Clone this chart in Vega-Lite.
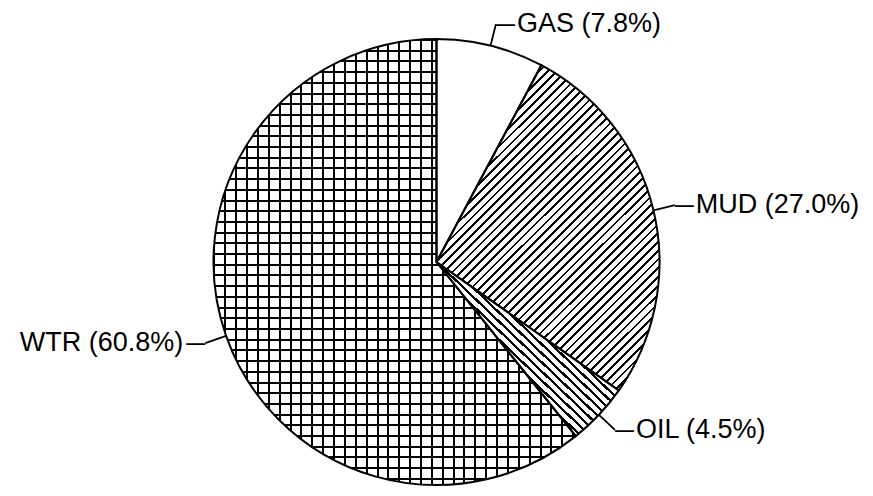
{
"$schema": "https://vega.github.io/schema/vega-lite/v6.json",
"width": 873, "height": 468,
"autosize": {"type": "none"},
"padding": {"top": 28, "left": 0, "right": 0, "bottom": 0},
"background": "#ffffff",
"config": {"view": {"stroke": null}},
"data": {"values": [
 {"cat": "GAS", "value": 7.8, "label": "GAS (7.8%)"},
 {"cat": "MUD", "value": 27.0, "label": "MUD (27.0%)"},
 {"cat": "OIL", "value": 4.5, "label": "OIL (4.5%)"},
 {"cat": "WTR", "value": 60.8, "label": "WTR (60.8%)"}
]},
"transform": [
 {"stack": "value", "groupby": [], "as": ["v0", "v1"]},
 {"calculate": "(datum.v0 + datum.v1) / 2", "as": "mid"}
],
"layer": [
 {"transform": [{"filter": "datum.cat === 'WTR'"}],
  "mark": {"type": "arc", "radius": 223, "fill": {"gradient": "linear", "x1": 0, "y1": 0, "x2": 1, "y2": 0, "stops": [
{"offset":0,"color":"#000"},{"offset":0.0055,"color":"#000"},{"offset":0.0055,"color":"#fff"},{"offset":0.03,"color":"#fff"},
{"offset":0.03,"color":"#000"},{"offset":0.0355,"color":"#000"},{"offset":0.0355,"color":"#fff"},{"offset":0.06,"color":"#fff"},
{"offset":0.06,"color":"#000"},{"offset":0.0655,"color":"#000"},{"offset":0.0655,"color":"#fff"},{"offset":0.09,"color":"#fff"},
{"offset":0.09,"color":"#000"},{"offset":0.0955,"color":"#000"},{"offset":0.0955,"color":"#fff"},{"offset":0.12,"color":"#fff"},
{"offset":0.12,"color":"#000"},{"offset":0.1255,"color":"#000"},{"offset":0.1255,"color":"#fff"},{"offset":0.15,"color":"#fff"},
{"offset":0.15,"color":"#000"},{"offset":0.1555,"color":"#000"},{"offset":0.1555,"color":"#fff"},{"offset":0.18,"color":"#fff"},
{"offset":0.18,"color":"#000"},{"offset":0.1855,"color":"#000"},{"offset":0.1855,"color":"#fff"},{"offset":0.21,"color":"#fff"},
{"offset":0.21,"color":"#000"},{"offset":0.2155,"color":"#000"},{"offset":0.2155,"color":"#fff"},{"offset":0.24,"color":"#fff"},
{"offset":0.24,"color":"#000"},{"offset":0.2455,"color":"#000"},{"offset":0.2455,"color":"#fff"},{"offset":0.27,"color":"#fff"},
{"offset":0.27,"color":"#000"},{"offset":0.2755,"color":"#000"},{"offset":0.2755,"color":"#fff"},{"offset":0.3,"color":"#fff"},
{"offset":0.3,"color":"#000"},{"offset":0.3055,"color":"#000"},{"offset":0.3055,"color":"#fff"},{"offset":0.33,"color":"#fff"},
{"offset":0.33,"color":"#000"},{"offset":0.3355,"color":"#000"},{"offset":0.3355,"color":"#fff"},{"offset":0.36,"color":"#fff"},
{"offset":0.36,"color":"#000"},{"offset":0.3655,"color":"#000"},{"offset":0.3655,"color":"#fff"},{"offset":0.39,"color":"#fff"},
{"offset":0.39,"color":"#000"},{"offset":0.3955,"color":"#000"},{"offset":0.3955,"color":"#fff"},{"offset":0.42,"color":"#fff"},
{"offset":0.42,"color":"#000"},{"offset":0.4255,"color":"#000"},{"offset":0.4255,"color":"#fff"},{"offset":0.45,"color":"#fff"},
{"offset":0.45,"color":"#000"},{"offset":0.4555,"color":"#000"},{"offset":0.4555,"color":"#fff"},{"offset":0.48,"color":"#fff"},
{"offset":0.48,"color":"#000"},{"offset":0.4855,"color":"#000"},{"offset":0.4855,"color":"#fff"},{"offset":0.51,"color":"#fff"},
{"offset":0.51,"color":"#000"},{"offset":0.5155,"color":"#000"},{"offset":0.5155,"color":"#fff"},{"offset":0.54,"color":"#fff"},
{"offset":0.54,"color":"#000"},{"offset":0.5455,"color":"#000"},{"offset":0.5455,"color":"#fff"},{"offset":0.57,"color":"#fff"},
{"offset":0.57,"color":"#000"},{"offset":0.5755,"color":"#000"},{"offset":0.5755,"color":"#fff"},{"offset":0.6,"color":"#fff"},
{"offset":0.6,"color":"#000"},{"offset":0.6055,"color":"#000"},{"offset":0.6055,"color":"#fff"},{"offset":0.63,"color":"#fff"},
{"offset":0.63,"color":"#000"},{"offset":0.6355,"color":"#000"},{"offset":0.6355,"color":"#fff"},{"offset":0.66,"color":"#fff"},
{"offset":0.66,"color":"#000"},{"offset":0.6655,"color":"#000"},{"offset":0.6655,"color":"#fff"},{"offset":0.69,"color":"#fff"},
{"offset":0.69,"color":"#000"},{"offset":0.6955,"color":"#000"},{"offset":0.6955,"color":"#fff"},{"offset":0.72,"color":"#fff"},
{"offset":0.72,"color":"#000"},{"offset":0.7255,"color":"#000"},{"offset":0.7255,"color":"#fff"},{"offset":0.75,"color":"#fff"},
{"offset":0.75,"color":"#000"},{"offset":0.7555,"color":"#000"},{"offset":0.7555,"color":"#fff"},{"offset":0.78,"color":"#fff"},
{"offset":0.78,"color":"#000"},{"offset":0.7855,"color":"#000"},{"offset":0.7855,"color":"#fff"},{"offset":0.81,"color":"#fff"},
{"offset":0.81,"color":"#000"},{"offset":0.8155,"color":"#000"},{"offset":0.8155,"color":"#fff"},{"offset":0.84,"color":"#fff"},
{"offset":0.84,"color":"#000"},{"offset":0.8455,"color":"#000"},{"offset":0.8455,"color":"#fff"},{"offset":0.87,"color":"#fff"},
{"offset":0.87,"color":"#000"},{"offset":0.8755,"color":"#000"},{"offset":0.8755,"color":"#fff"},{"offset":0.9,"color":"#fff"},
{"offset":0.9,"color":"#000"},{"offset":0.9055,"color":"#000"},{"offset":0.9055,"color":"#fff"},{"offset":0.93,"color":"#fff"},
{"offset":0.93,"color":"#000"},{"offset":0.9355,"color":"#000"},{"offset":0.9355,"color":"#fff"},{"offset":0.96,"color":"#fff"},
{"offset":0.96,"color":"#000"},{"offset":0.9655,"color":"#000"},{"offset":0.9655,"color":"#fff"},{"offset":0.99,"color":"#fff"},
{"offset":0.99,"color":"#000"},{"offset":0.9955,"color":"#000"},{"offset":0.9955,"color":"#fff"},{"offset":1,"color":"#fff"}
  ]}},
  "encoding": {"theta": {"field": "v0", "type": "quantitative", "scale": {"domain": [0, 100.1]}, "stack": null}, "theta2": {"field": "v1"}}},
 {"transform": [{"filter": "datum.cat === 'WTR'"}],
  "mark": {"type": "arc", "radius": 223, "fill": {"gradient": "linear", "x1": 0, "y1": 0, "x2": 0, "y2": 1, "stops": [
{"offset":0,"color":"#000"},{"offset":0.0045,"color":"#000"},{"offset":0.0045,"color":"rgba(0,0,0,0)"},{"offset":0.024,"color":"rgba(0,0,0,0)"},
{"offset":0.024,"color":"#000"},{"offset":0.0285,"color":"#000"},{"offset":0.0285,"color":"rgba(0,0,0,0)"},{"offset":0.048,"color":"rgba(0,0,0,0)"},
{"offset":0.048,"color":"#000"},{"offset":0.0525,"color":"#000"},{"offset":0.0525,"color":"rgba(0,0,0,0)"},{"offset":0.072,"color":"rgba(0,0,0,0)"},
{"offset":0.072,"color":"#000"},{"offset":0.0765,"color":"#000"},{"offset":0.0765,"color":"rgba(0,0,0,0)"},{"offset":0.096,"color":"rgba(0,0,0,0)"},
{"offset":0.096,"color":"#000"},{"offset":0.1005,"color":"#000"},{"offset":0.1005,"color":"rgba(0,0,0,0)"},{"offset":0.12,"color":"rgba(0,0,0,0)"},
{"offset":0.12,"color":"#000"},{"offset":0.1245,"color":"#000"},{"offset":0.1245,"color":"rgba(0,0,0,0)"},{"offset":0.144,"color":"rgba(0,0,0,0)"},
{"offset":0.144,"color":"#000"},{"offset":0.1485,"color":"#000"},{"offset":0.1485,"color":"rgba(0,0,0,0)"},{"offset":0.168,"color":"rgba(0,0,0,0)"},
{"offset":0.168,"color":"#000"},{"offset":0.1725,"color":"#000"},{"offset":0.1725,"color":"rgba(0,0,0,0)"},{"offset":0.192,"color":"rgba(0,0,0,0)"},
{"offset":0.192,"color":"#000"},{"offset":0.1965,"color":"#000"},{"offset":0.1965,"color":"rgba(0,0,0,0)"},{"offset":0.216,"color":"rgba(0,0,0,0)"},
{"offset":0.216,"color":"#000"},{"offset":0.2205,"color":"#000"},{"offset":0.2205,"color":"rgba(0,0,0,0)"},{"offset":0.24,"color":"rgba(0,0,0,0)"},
{"offset":0.24,"color":"#000"},{"offset":0.2445,"color":"#000"},{"offset":0.2445,"color":"rgba(0,0,0,0)"},{"offset":0.264,"color":"rgba(0,0,0,0)"},
{"offset":0.264,"color":"#000"},{"offset":0.2685,"color":"#000"},{"offset":0.2685,"color":"rgba(0,0,0,0)"},{"offset":0.288,"color":"rgba(0,0,0,0)"},
{"offset":0.288,"color":"#000"},{"offset":0.2925,"color":"#000"},{"offset":0.2925,"color":"rgba(0,0,0,0)"},{"offset":0.312,"color":"rgba(0,0,0,0)"},
{"offset":0.312,"color":"#000"},{"offset":0.3165,"color":"#000"},{"offset":0.3165,"color":"rgba(0,0,0,0)"},{"offset":0.336,"color":"rgba(0,0,0,0)"},
{"offset":0.336,"color":"#000"},{"offset":0.3405,"color":"#000"},{"offset":0.3405,"color":"rgba(0,0,0,0)"},{"offset":0.36,"color":"rgba(0,0,0,0)"},
{"offset":0.36,"color":"#000"},{"offset":0.3645,"color":"#000"},{"offset":0.3645,"color":"rgba(0,0,0,0)"},{"offset":0.384,"color":"rgba(0,0,0,0)"},
{"offset":0.384,"color":"#000"},{"offset":0.3885,"color":"#000"},{"offset":0.3885,"color":"rgba(0,0,0,0)"},{"offset":0.408,"color":"rgba(0,0,0,0)"},
{"offset":0.408,"color":"#000"},{"offset":0.4125,"color":"#000"},{"offset":0.4125,"color":"rgba(0,0,0,0)"},{"offset":0.432,"color":"rgba(0,0,0,0)"},
{"offset":0.432,"color":"#000"},{"offset":0.4365,"color":"#000"},{"offset":0.4365,"color":"rgba(0,0,0,0)"},{"offset":0.456,"color":"rgba(0,0,0,0)"},
{"offset":0.456,"color":"#000"},{"offset":0.4605,"color":"#000"},{"offset":0.4605,"color":"rgba(0,0,0,0)"},{"offset":0.48,"color":"rgba(0,0,0,0)"},
{"offset":0.48,"color":"#000"},{"offset":0.4845,"color":"#000"},{"offset":0.4845,"color":"rgba(0,0,0,0)"},{"offset":0.504,"color":"rgba(0,0,0,0)"},
{"offset":0.504,"color":"#000"},{"offset":0.5085,"color":"#000"},{"offset":0.5085,"color":"rgba(0,0,0,0)"},{"offset":0.528,"color":"rgba(0,0,0,0)"},
{"offset":0.528,"color":"#000"},{"offset":0.5325,"color":"#000"},{"offset":0.5325,"color":"rgba(0,0,0,0)"},{"offset":0.552,"color":"rgba(0,0,0,0)"},
{"offset":0.552,"color":"#000"},{"offset":0.5565,"color":"#000"},{"offset":0.5565,"color":"rgba(0,0,0,0)"},{"offset":0.576,"color":"rgba(0,0,0,0)"},
{"offset":0.576,"color":"#000"},{"offset":0.5805,"color":"#000"},{"offset":0.5805,"color":"rgba(0,0,0,0)"},{"offset":0.6,"color":"rgba(0,0,0,0)"},
{"offset":0.6,"color":"#000"},{"offset":0.6045,"color":"#000"},{"offset":0.6045,"color":"rgba(0,0,0,0)"},{"offset":0.624,"color":"rgba(0,0,0,0)"},
{"offset":0.624,"color":"#000"},{"offset":0.6285,"color":"#000"},{"offset":0.6285,"color":"rgba(0,0,0,0)"},{"offset":0.648,"color":"rgba(0,0,0,0)"},
{"offset":0.648,"color":"#000"},{"offset":0.6525,"color":"#000"},{"offset":0.6525,"color":"rgba(0,0,0,0)"},{"offset":0.672,"color":"rgba(0,0,0,0)"},
{"offset":0.672,"color":"#000"},{"offset":0.6765,"color":"#000"},{"offset":0.6765,"color":"rgba(0,0,0,0)"},{"offset":0.696,"color":"rgba(0,0,0,0)"},
{"offset":0.696,"color":"#000"},{"offset":0.7005,"color":"#000"},{"offset":0.7005,"color":"rgba(0,0,0,0)"},{"offset":0.72,"color":"rgba(0,0,0,0)"},
{"offset":0.72,"color":"#000"},{"offset":0.7245,"color":"#000"},{"offset":0.7245,"color":"rgba(0,0,0,0)"},{"offset":0.744,"color":"rgba(0,0,0,0)"},
{"offset":0.744,"color":"#000"},{"offset":0.7485,"color":"#000"},{"offset":0.7485,"color":"rgba(0,0,0,0)"},{"offset":0.768,"color":"rgba(0,0,0,0)"},
{"offset":0.768,"color":"#000"},{"offset":0.7725,"color":"#000"},{"offset":0.7725,"color":"rgba(0,0,0,0)"},{"offset":0.792,"color":"rgba(0,0,0,0)"},
{"offset":0.792,"color":"#000"},{"offset":0.7965,"color":"#000"},{"offset":0.7965,"color":"rgba(0,0,0,0)"},{"offset":0.816,"color":"rgba(0,0,0,0)"},
{"offset":0.816,"color":"#000"},{"offset":0.8205,"color":"#000"},{"offset":0.8205,"color":"rgba(0,0,0,0)"},{"offset":0.84,"color":"rgba(0,0,0,0)"},
{"offset":0.84,"color":"#000"},{"offset":0.8445,"color":"#000"},{"offset":0.8445,"color":"rgba(0,0,0,0)"},{"offset":0.864,"color":"rgba(0,0,0,0)"},
{"offset":0.864,"color":"#000"},{"offset":0.8685,"color":"#000"},{"offset":0.8685,"color":"rgba(0,0,0,0)"},{"offset":0.888,"color":"rgba(0,0,0,0)"},
{"offset":0.888,"color":"#000"},{"offset":0.8925,"color":"#000"},{"offset":0.8925,"color":"rgba(0,0,0,0)"},{"offset":0.912,"color":"rgba(0,0,0,0)"},
{"offset":0.912,"color":"#000"},{"offset":0.9165,"color":"#000"},{"offset":0.9165,"color":"rgba(0,0,0,0)"},{"offset":0.936,"color":"rgba(0,0,0,0)"},
{"offset":0.936,"color":"#000"},{"offset":0.9405,"color":"#000"},{"offset":0.9405,"color":"rgba(0,0,0,0)"},{"offset":0.96,"color":"rgba(0,0,0,0)"},
{"offset":0.96,"color":"#000"},{"offset":0.9645,"color":"#000"},{"offset":0.9645,"color":"rgba(0,0,0,0)"},{"offset":0.984,"color":"rgba(0,0,0,0)"},
{"offset":0.984,"color":"#000"},{"offset":0.9885,"color":"#000"},{"offset":0.9885,"color":"rgba(0,0,0,0)"},{"offset":1,"color":"rgba(0,0,0,0)"}
  ]}},
  "encoding": {"theta": {"field": "v0", "type": "quantitative", "scale": {"domain": [0, 100.1]}, "stack": null}, "theta2": {"field": "v1"}}},
 {"transform": [{"filter": "datum.cat === 'MUD'"}],
  "mark": {"type": "arc", "radius": 223, "fill": {"gradient": "linear", "x1": 0, "y1": 0, "x2": 0.7855, "y2": 1.1469, "stops": [
{"offset":0,"color":"#fff"},{"offset":0.18,"color":"#fff"},
{"offset":0.18,"color":"#000"},{"offset":0.185,"color":"#000"},{"offset":0.185,"color":"#fff"},{"offset":0.196,"color":"#fff"},
{"offset":0.196,"color":"#000"},{"offset":0.201,"color":"#000"},{"offset":0.201,"color":"#fff"},{"offset":0.212,"color":"#fff"},
{"offset":0.212,"color":"#000"},{"offset":0.217,"color":"#000"},{"offset":0.217,"color":"#fff"},{"offset":0.228,"color":"#fff"},
{"offset":0.228,"color":"#000"},{"offset":0.233,"color":"#000"},{"offset":0.233,"color":"#fff"},{"offset":0.244,"color":"#fff"},
{"offset":0.244,"color":"#000"},{"offset":0.249,"color":"#000"},{"offset":0.249,"color":"#fff"},{"offset":0.26,"color":"#fff"},
{"offset":0.26,"color":"#000"},{"offset":0.265,"color":"#000"},{"offset":0.265,"color":"#fff"},{"offset":0.276,"color":"#fff"},
{"offset":0.276,"color":"#000"},{"offset":0.281,"color":"#000"},{"offset":0.281,"color":"#fff"},{"offset":0.292,"color":"#fff"},
{"offset":0.292,"color":"#000"},{"offset":0.297,"color":"#000"},{"offset":0.297,"color":"#fff"},{"offset":0.308,"color":"#fff"},
{"offset":0.308,"color":"#000"},{"offset":0.313,"color":"#000"},{"offset":0.313,"color":"#fff"},{"offset":0.324,"color":"#fff"},
{"offset":0.324,"color":"#000"},{"offset":0.329,"color":"#000"},{"offset":0.329,"color":"#fff"},{"offset":0.34,"color":"#fff"},
{"offset":0.34,"color":"#000"},{"offset":0.345,"color":"#000"},{"offset":0.345,"color":"#fff"},{"offset":0.356,"color":"#fff"},
{"offset":0.356,"color":"#000"},{"offset":0.361,"color":"#000"},{"offset":0.361,"color":"#fff"},{"offset":0.372,"color":"#fff"},
{"offset":0.372,"color":"#000"},{"offset":0.377,"color":"#000"},{"offset":0.377,"color":"#fff"},{"offset":0.388,"color":"#fff"},
{"offset":0.388,"color":"#000"},{"offset":0.393,"color":"#000"},{"offset":0.393,"color":"#fff"},{"offset":0.404,"color":"#fff"},
{"offset":0.404,"color":"#000"},{"offset":0.409,"color":"#000"},{"offset":0.409,"color":"#fff"},{"offset":0.42,"color":"#fff"},
{"offset":0.42,"color":"#000"},{"offset":0.425,"color":"#000"},{"offset":0.425,"color":"#fff"},{"offset":0.436,"color":"#fff"},
{"offset":0.436,"color":"#000"},{"offset":0.441,"color":"#000"},{"offset":0.441,"color":"#fff"},{"offset":0.452,"color":"#fff"},
{"offset":0.452,"color":"#000"},{"offset":0.457,"color":"#000"},{"offset":0.457,"color":"#fff"},{"offset":0.468,"color":"#fff"},
{"offset":0.468,"color":"#000"},{"offset":0.473,"color":"#000"},{"offset":0.473,"color":"#fff"},{"offset":0.484,"color":"#fff"},
{"offset":0.484,"color":"#000"},{"offset":0.489,"color":"#000"},{"offset":0.489,"color":"#fff"},{"offset":0.5,"color":"#fff"},
{"offset":0.5,"color":"#000"},{"offset":0.505,"color":"#000"},{"offset":0.505,"color":"#fff"},{"offset":0.516,"color":"#fff"},
{"offset":0.516,"color":"#000"},{"offset":0.521,"color":"#000"},{"offset":0.521,"color":"#fff"},{"offset":0.532,"color":"#fff"},
{"offset":0.532,"color":"#000"},{"offset":0.537,"color":"#000"},{"offset":0.537,"color":"#fff"},{"offset":0.548,"color":"#fff"},
{"offset":0.548,"color":"#000"},{"offset":0.553,"color":"#000"},{"offset":0.553,"color":"#fff"},{"offset":0.564,"color":"#fff"},
{"offset":0.564,"color":"#000"},{"offset":0.569,"color":"#000"},{"offset":0.569,"color":"#fff"},{"offset":0.58,"color":"#fff"},
{"offset":0.58,"color":"#000"},{"offset":0.585,"color":"#000"},{"offset":0.585,"color":"#fff"},{"offset":0.596,"color":"#fff"},
{"offset":0.596,"color":"#000"},{"offset":0.601,"color":"#000"},{"offset":0.601,"color":"#fff"},{"offset":0.612,"color":"#fff"},
{"offset":0.612,"color":"#000"},{"offset":0.617,"color":"#000"},{"offset":0.617,"color":"#fff"},{"offset":0.628,"color":"#fff"},
{"offset":0.628,"color":"#000"},{"offset":0.633,"color":"#000"},{"offset":0.633,"color":"#fff"},{"offset":0.644,"color":"#fff"},
{"offset":0.644,"color":"#000"},{"offset":0.649,"color":"#000"},{"offset":0.649,"color":"#fff"},{"offset":0.66,"color":"#fff"},
{"offset":0.66,"color":"#000"},{"offset":0.665,"color":"#000"},{"offset":0.665,"color":"#fff"},{"offset":0.676,"color":"#fff"},
{"offset":0.676,"color":"#000"},{"offset":0.681,"color":"#000"},{"offset":0.681,"color":"#fff"},{"offset":0.692,"color":"#fff"},
{"offset":0.692,"color":"#000"},{"offset":0.697,"color":"#000"},{"offset":0.697,"color":"#fff"},{"offset":0.708,"color":"#fff"},
{"offset":0.708,"color":"#000"},{"offset":0.713,"color":"#000"},{"offset":0.713,"color":"#fff"},{"offset":0.724,"color":"#fff"},
{"offset":0.724,"color":"#000"},{"offset":0.729,"color":"#000"},{"offset":0.729,"color":"#fff"},{"offset":0.74,"color":"#fff"},
{"offset":0.74,"color":"#000"},{"offset":0.745,"color":"#000"},{"offset":0.745,"color":"#fff"},{"offset":0.756,"color":"#fff"},
{"offset":0.756,"color":"#000"},{"offset":0.761,"color":"#000"},{"offset":0.761,"color":"#fff"},{"offset":0.772,"color":"#fff"},
{"offset":0.772,"color":"#000"},{"offset":0.777,"color":"#000"},{"offset":0.777,"color":"#fff"},{"offset":0.788,"color":"#fff"},
{"offset":0.788,"color":"#000"},{"offset":0.793,"color":"#000"},{"offset":0.793,"color":"#fff"},{"offset":0.804,"color":"#fff"},
{"offset":0.804,"color":"#000"},{"offset":0.809,"color":"#000"},{"offset":0.809,"color":"#fff"},{"offset":0.82,"color":"#fff"},
{"offset":0.82,"color":"#000"},{"offset":0.825,"color":"#000"},{"offset":0.825,"color":"#fff"},{"offset":0.836,"color":"#fff"},
{"offset":0.836,"color":"#000"},{"offset":0.841,"color":"#000"},{"offset":0.841,"color":"#fff"},{"offset":0.852,"color":"#fff"},
{"offset":0.852,"color":"#000"},{"offset":0.857,"color":"#000"},{"offset":0.857,"color":"#fff"},{"offset":0.868,"color":"#fff"},
{"offset":0.868,"color":"#000"},{"offset":0.873,"color":"#000"},{"offset":0.873,"color":"#fff"},{"offset":0.884,"color":"#fff"},
{"offset":0.884,"color":"#000"},{"offset":0.889,"color":"#000"},{"offset":0.889,"color":"#fff"},{"offset":0.9,"color":"#fff"},
{"offset":0.9,"color":"#000"},{"offset":0.905,"color":"#000"},{"offset":0.905,"color":"#fff"},{"offset":0.916,"color":"#fff"},
{"offset":0.916,"color":"#000"},{"offset":0.921,"color":"#000"},{"offset":0.921,"color":"#fff"},{"offset":0.932,"color":"#fff"},
{"offset":0.932,"color":"#000"},{"offset":0.937,"color":"#000"},{"offset":0.937,"color":"#fff"},{"offset":1,"color":"#fff"}
  ]}},
  "encoding": {"theta": {"field": "v0", "type": "quantitative", "scale": {"domain": [0, 100.1]}, "stack": null}, "theta2": {"field": "v1"}}},
 {"transform": [{"filter": "datum.cat === 'OIL'"}],
  "mark": {"type": "arc", "radius": 223, "fill": {"gradient": "linear", "x1": 0, "y1": 1, "x2": 1, "y2": 0, "stops": [
{"offset":0,"color":"#fff"},{"offset":0.34,"color":"#fff"},
{"offset":0.34,"color":"#000"},{"offset":0.349,"color":"#000"},{"offset":0.349,"color":"#fff"},{"offset":0.366,"color":"#fff"},
{"offset":0.366,"color":"#000"},{"offset":0.375,"color":"#000"},{"offset":0.375,"color":"#fff"},{"offset":0.392,"color":"#fff"},
{"offset":0.392,"color":"#000"},{"offset":0.401,"color":"#000"},{"offset":0.401,"color":"#fff"},{"offset":0.418,"color":"#fff"},
{"offset":0.418,"color":"#000"},{"offset":0.427,"color":"#000"},{"offset":0.427,"color":"#fff"},{"offset":0.444,"color":"#fff"},
{"offset":0.444,"color":"#000"},{"offset":0.453,"color":"#000"},{"offset":0.453,"color":"#fff"},{"offset":0.47,"color":"#fff"},
{"offset":0.47,"color":"#000"},{"offset":0.479,"color":"#000"},{"offset":0.479,"color":"#fff"},{"offset":0.496,"color":"#fff"},
{"offset":0.496,"color":"#000"},{"offset":0.505,"color":"#000"},{"offset":0.505,"color":"#fff"},{"offset":0.522,"color":"#fff"},
{"offset":0.522,"color":"#000"},{"offset":0.531,"color":"#000"},{"offset":0.531,"color":"#fff"},{"offset":0.548,"color":"#fff"},
{"offset":0.548,"color":"#000"},{"offset":0.557,"color":"#000"},{"offset":0.557,"color":"#fff"},{"offset":0.574,"color":"#fff"},
{"offset":0.574,"color":"#000"},{"offset":0.583,"color":"#000"},{"offset":0.583,"color":"#fff"},{"offset":0.6,"color":"#fff"},
{"offset":0.6,"color":"#000"},{"offset":0.609,"color":"#000"},{"offset":0.609,"color":"#fff"},{"offset":0.626,"color":"#fff"},
{"offset":0.626,"color":"#000"},{"offset":0.635,"color":"#000"},{"offset":0.635,"color":"#fff"},{"offset":0.652,"color":"#fff"},
{"offset":0.652,"color":"#000"},{"offset":0.661,"color":"#000"},{"offset":0.661,"color":"#fff"},{"offset":1,"color":"#fff"}
  ]}},
  "encoding": {"theta": {"field": "v0", "type": "quantitative", "scale": {"domain": [0, 100.1]}, "stack": null}, "theta2": {"field": "v1"}}},
 {"transform": [{"filter": "datum.cat === 'GAS'"}],
  "mark": {"type": "arc", "radius": 223, "fill": "#ffffff"},
  "encoding": {"theta": {"field": "v0", "type": "quantitative", "scale": {"domain": [0, 100.1]}, "stack": null}, "theta2": {"field": "v1"}}},
 {"mark": {"type": "arc", "radius": 223, "fill": "#ffffff", "fillOpacity": 0, "stroke": "#000000", "strokeWidth": 2, "strokeJoin": "miter"},
  "encoding": {"theta": {"field": "v0", "type": "quantitative", "scale": {"domain": [0, 100.1]}, "stack": null}, "theta2": {"field": "v1"}}},
 {"mark": {"type": "arc", "radius": 245, "radius2": 223, "fill": "#ffffff", "fillOpacity": 0, "stroke": "#000000", "strokeWidth": 1.8},
  "encoding": {"theta": {"field": "mid", "type": "quantitative", "scale": {"domain": [0, 100.1]}, "stack": null}, "theta2": {"field": "mid"}}},
 {"transform": [{"filter": "datum.cat !== 'WTR'"}],
  "mark": {"type": "text", "text": "—", "radius": 245, "align": "left", "baseline": "middle", "font": "Liberation Sans", "fontSize": 19, "fontWeight": "bold", "color": "#000000"},
  "encoding": {"theta": {"field": "mid", "type": "quantitative", "scale": {"domain": [0, 100.1]}, "stack": null}}},
 {"transform": [{"filter": "datum.cat === 'WTR'"}],
  "mark": {"type": "text", "text": "—", "radius": 245, "align": "right", "baseline": "middle", "font": "Liberation Sans", "fontSize": 19, "fontWeight": "bold", "color": "#000000"},
  "encoding": {"theta": {"field": "mid", "type": "quantitative", "scale": {"domain": [0, 100.1]}, "stack": null}}},
 {"transform": [{"filter": "datum.cat !== 'WTR'"}],
  "mark": {"type": "text", "radius": 245, "align": "left", "baseline": "middle", "dx": 21, "dy": 0, "font": "Liberation Sans", "fontSize": 27, "color": "#000000"},
  "encoding": {"theta": {"field": "mid", "type": "quantitative", "scale": {"domain": [0, 100.1]}, "stack": null}, "text": {"field": "label"}}},
 {"transform": [{"filter": "datum.cat === 'WTR'"}],
  "mark": {"type": "text", "radius": 245, "align": "right", "baseline": "middle", "dx": -22, "dy": 0, "font": "Liberation Sans", "fontSize": 27, "color": "#000000"},
  "encoding": {"theta": {"field": "mid", "type": "quantitative", "scale": {"domain": [0, 100.1]}, "stack": null}, "text": {"field": "label"}}}
]
}
